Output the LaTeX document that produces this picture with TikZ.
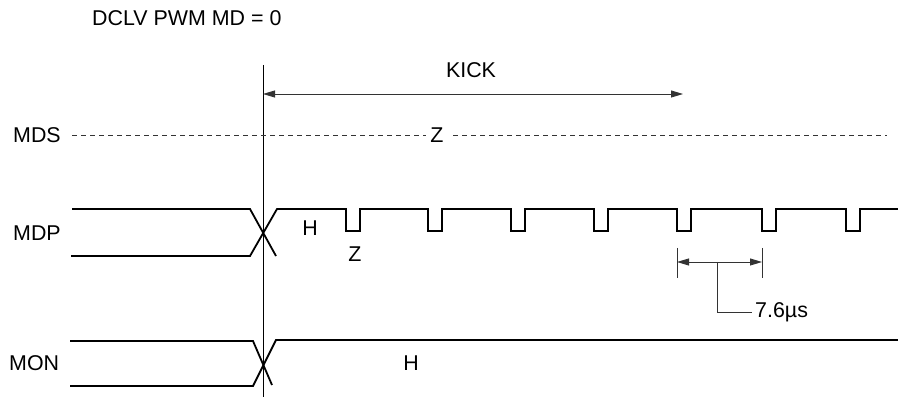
\documentclass[tikz,border=0pt]{standalone}
\usepackage{fontspec}
\setmainfont{Liberation Sans}
\usetikzlibrary{arrows.meta}
\begin{document}
\begin{tikzpicture}[x=1pt,y=-1pt,
  sig/.style={line width=1.8pt,line join=miter},
  thin/.style={line width=0.8pt},
  dashz/.style={line width=0.8pt,draw=black!80,dash pattern=on 5pt off 4pt},
  dimline/.style={line width=0.9pt,draw=black!80,{Triangle[length=12pt,width=7pt]}-{Triangle[length=12pt,width=7pt]}},
  lbl/.style={inner sep=0pt,font=\fontsize{21.4}{25}\selectfont}]
\useasboundingbox (0,0) rectangle (898,398);
% title
\node[lbl,anchor=west] (title) at (92,18) {DCLV PWM MD = 0};
% signal names
\node[lbl,anchor=west] (mds) at (13,135) {MDS};
\node[lbl,anchor=west] (mdp) at (13,233) {MDP};
\node[lbl,anchor=west] (mon) at (9,363) {MON};
% reference vertical line
\coordinate (vtop) at (263,65);
\coordinate (vbot) at (263,397);
\draw[thin] (vtop) -- (vbot);
% KICK
\coordinate (kl) at (263,94);
\coordinate (kr) at (683,94);
\draw[dimline] (kl) -- (kr);
\node[lbl] (kick) at (471,70) {KICK};
% MDS dashed Z
\node[lbl] (mdsz) at (437,135) {Z};
\coordinate (ds0) at (72,135);
\coordinate (dsa) at (426,135);
\coordinate (dsb) at (453,135);
\coordinate (ds1) at (887,135);
\draw[dashz] (ds0) -- (dsa);
\draw[dashz] (dsb) -- (ds1);
% MDP
\draw[sig] (72,209) -- (250,209) -- (276,256);
\draw[sig] (71,256) -- (250,256) -- (277,209)
  foreach \p in {346,428,511,594,677,762,846} { -- (\p,209) -- (\p,231) -- (\p+14,231) -- (\p+14,209) }
  -- (898,209);
\node[lbl] (mdph) at (310,228) {H};
\node[lbl] (mdpz) at (355,254) {Z};
% 7.6us dimension
\coordinate (t1a) at (677,248); \coordinate (t1b) at (677,278);
\coordinate (t2a) at (762,248); \coordinate (t2b) at (762,278);
\draw[thin,draw=black!80] (t1a) -- (t1b);
\draw[thin,draw=black!80] (t2a) -- (t2b);
\coordinate (d1) at (677,262); \coordinate (d2) at (762,262);
\draw[dimline] (d1) -- (d2);
\coordinate (lead) at (717,262);
\node[lbl,anchor=west] (us) at (755,312) {7.6µs};
\draw[thin,draw=black!80] (lead) |- ([xshift=-3pt]us.west);
% MON
\draw[sig] (70,341) -- (253,341) -- (272,385);
\draw[sig] (70,386) -- (253,386) -- (276,340) -- (898,340);
\node[lbl] (monh) at (411,363) {H};
\end{tikzpicture}
\end{document}
